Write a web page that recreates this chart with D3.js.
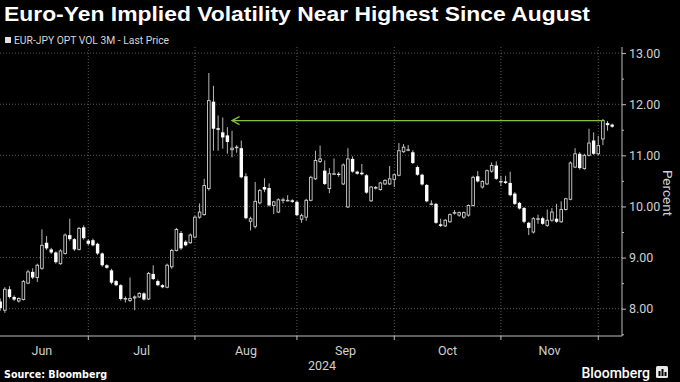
<!DOCTYPE html>
<html><head><meta charset="utf-8">
<script src="https://cdn.jsdelivr.net/npm/d3@7"></script>
<style>html,body{margin:0;padding:0;background:#000;}svg{display:block}</style>
</head><body>
<svg id="chart" width="680" height="382"></svg>
<script>
// ---- data ----
const firstDay = "2024-06-04";
const lastDay = "2024-12-05";
const open = [8.14,7.97,8.38,8.23,8.15,8.18,8.50,8.72,8.61,8.79,
9.29,9.16,9.10,8.88,9.08,9.44,9.36,9.16,9.59,9.33,
9.34,9.27,9.08,8.85,8.75,8.54,8.46,8.19,8.16,8.21,
8.23,8.30,8.19,8.68,8.54,8.46,8.42,8.82,9.14,9.48,
9.31,9.29,9.40,9.79,9.84,10.35,12.05,11.53,11.45,11.39,
11.11,11.16,11.14,10.59,9.71,9.61,10.07,10.38,10.36,10.02,
9.89,10.13,10.12,10.12,10.09,9.75,9.79,10.12,10.54,10.88,
10.70,10.35,10.64,10.64,10.44,9.99,10.93,10.68,10.66,10.61,
10.11,10.37,10.33,10.44,10.44,10.53,10.61,11.07,11.11,11.06,
10.77,10.62,10.42,10.05,10.05,9.65,9.62,9.70,9.88,9.83,
9.79,9.83,10.02,10.59,10.38,10.44,10.69,10.80,10.49,10.49,
10.46,10.25,10.07,9.97,9.68,9.50,9.76,9.77,9.63,9.73,
9.76,9.70,9.94,10.14,10.77,11.03,10.74,11.00,11.29,11.03,
11.32,11.63,11.60];
const high = [8.20,8.42,8.44,8.26,8.22,8.56,8.76,8.79,8.88,9.55,
9.42,9.19,9.12,9.16,9.47,9.76,9.38,9.60,9.63,9.36,
9.37,9.29,9.10,8.87,8.78,8.56,8.48,8.24,8.61,8.26,
8.32,8.32,8.72,8.85,8.57,8.48,8.88,9.17,9.58,9.52,
9.34,9.47,9.82,10.06,10.54,12.61,12.36,11.78,11.74,11.55,
11.48,11.20,11.29,10.65,9.80,10.48,10.34,10.55,10.45,10.11,
10.16,10.17,10.22,10.14,10.11,9.86,10.15,10.60,11.09,11.19,
10.90,10.75,10.94,10.67,10.84,11.14,10.98,10.70,10.83,10.63,
10.40,10.40,10.48,10.53,10.79,10.64,11.24,11.22,11.20,11.10,
10.80,10.64,10.44,10.12,10.07,9.76,9.75,9.86,9.93,9.90,
9.90,10.04,10.60,10.69,10.51,10.72,10.86,10.88,10.60,10.60,
10.68,10.28,10.09,9.99,9.70,9.79,9.84,9.80,9.94,9.97,
10.05,10.10,10.17,10.88,11.14,11.06,11.03,11.52,11.45,11.38,
11.71,11.67,11.62];
const low = [7.96,7.92,8.20,8.15,8.12,8.16,8.48,8.58,8.52,8.76,
9.15,9.07,8.88,8.86,9.06,9.33,9.13,9.14,9.35,9.24,
9.22,9.05,8.82,8.78,8.48,8.44,8.16,8.12,8.13,7.97,
8.21,8.16,8.17,8.56,8.44,8.40,8.40,8.78,9.12,9.15,
9.22,9.27,9.38,9.76,9.82,10.31,11.09,11.09,11.13,11.03,
10.96,11.05,10.55,9.75,9.53,9.57,10.04,10.28,10.00,9.85,
9.87,10.06,10.10,10.07,9.81,9.68,9.72,10.10,10.52,10.85,
10.42,10.26,10.62,10.58,10.42,9.97,10.66,10.62,10.61,10.25,
10.09,10.33,10.31,10.42,10.42,10.38,10.59,11.05,11.08,10.83,
10.60,10.41,10.08,10.02,9.66,9.60,9.60,9.68,9.84,9.80,
9.76,9.80,10.00,10.47,10.35,10.42,10.66,10.52,10.40,10.44,
10.20,10.03,9.94,9.67,9.44,9.47,9.66,9.64,9.60,9.70,
9.68,9.68,9.92,10.12,10.75,10.72,10.72,10.98,11.01,11.00,
11.20,11.48,11.54];
const close = [8.01,8.38,8.23,8.18,8.20,8.53,8.72,8.61,8.85,9.24,
9.18,9.10,8.91,9.13,9.44,9.36,9.16,9.57,9.38,9.27,
9.24,9.08,8.85,8.80,8.51,8.46,8.19,8.20,8.20,8.23,
8.30,8.18,8.69,8.58,8.46,8.42,8.85,9.14,9.55,9.18,
9.24,9.44,9.79,9.89,10.41,12.07,11.52,11.50,11.35,11.26,
11.14,11.16,10.57,9.77,9.76,10.10,10.31,10.33,10.02,10.09,
10.13,10.13,10.12,10.09,9.83,9.82,10.12,10.57,10.90,10.93,
10.44,10.64,10.64,10.63,10.81,10.93,10.68,10.64,10.63,10.27,
10.38,10.37,10.46,10.51,10.54,10.62,11.09,11.16,11.11,10.85,
10.62,10.43,10.10,10.05,9.68,9.62,9.73,9.84,9.88,9.88,
9.88,10.02,10.57,10.49,10.49,10.70,10.80,10.54,10.49,10.46,
10.22,10.05,9.96,9.70,9.58,9.76,9.76,9.66,9.73,9.89,
9.70,9.94,10.15,10.85,11.03,10.75,11.00,11.24,11.03,11.19,
11.68,11.59,11.56];
const yTicks = [8, 9, 10, 11, 12, 13];
const yMinorTicks = [7.5, 8.5, 9.5, 10.5, 11.5, 12.5];
const monthLabels = ["Jun", "Jul", "Aug", "Sep", "Oct", "Nov"];
const yearLabel = "2024";
const arrowLevel = 11.68;
const arrowFrom = "2024-08-13";
const arrowTo = "2024-12-03";
const title = "Euro-Yen Implied Volatility Near Highest Since August";
const legendLabel = "EUR-JPY OPT VOL 3M - Last Price";
const yAxisTitle = "Percent";
const sourceText = "Source: Bloomberg";

// ---- build ----
const parse = d3.timeParse("%Y-%m-%d");
const fmt = d3.timeFormat("%Y-%m-%d");
const days = d3.timeDay.range(parse(firstDay), d3.timeDay.offset(parse(lastDay), 1))
  .filter(d => d.getDay() !== 0 && d.getDay() !== 6).map(fmt);
const data = days.map((d, i) => ({date: d, o: open[i], h: high[i], l: low[i], c: close[i]}));

const svg = d3.select("#chart");
const W = 680, H = 382;
const plot = {left: 0, right: 622, top: 47, bottom: 336};

const x = d3.scaleBand().domain(days).range([-2.1, 614.5]);
const cx = d => x(d) + x.bandwidth() / 2;
const y = d3.scaleLinear().domain([7.466, 13.06]).range([plot.bottom, 50]);

svg.append("rect").attr("width", W).attr("height", H).attr("fill", "#000");

// first trading day of each month (for grid/ticks)
const monthStarts = [];
days.forEach((d, i) => { if (i > 0 && d.slice(5, 7) !== days[i - 1].slice(5, 7)) monthStarts.push(d); });

// gridlines
const grid = svg.append("g");
grid.selectAll("line.h").data(yTicks).join("line")
  .attr("x1", plot.left).attr("x2", plot.right)
  .attr("y1", d => y(d)).attr("y2", d => y(d))
  .attr("stroke", "#5a5a5a").attr("stroke-width", 1).attr("stroke-dasharray", "1,2");
grid.selectAll("line.v").data(monthStarts).join("line")
  .attr("x1", d => cx(d)).attr("x2", d => cx(d))
  .attr("y1", plot.top).attr("y2", plot.bottom)
  .attr("stroke", "#5a5a5a").attr("stroke-width", 1).attr("stroke-dasharray", "1,2");

// candles
const clipId = "clipPlot";
svg.append("clipPath").attr("id", clipId).append("rect")
  .attr("x", 0).attr("y", plot.top).attr("width", plot.right).attr("height", plot.bottom - plot.top);
const cg = svg.append("g").attr("clip-path", `url(#${clipId})`);
const candle = cg.selectAll("g.c").data(data).join("g");
candle.append("line")
  .attr("x1", d => cx(d.date)).attr("x2", d => cx(d.date))
  .attr("y1", d => y(d.h)).attr("y2", d => y(d.l))
  .attr("stroke", "#b8b8b8").attr("stroke-width", 1);
candle.append("rect")
  .attr("x", d => d.c >= d.o ? cx(d.date) - 1.3 : cx(d.date) - 1.7)
  .attr("width", d => d.c >= d.o ? 2.6 : 3.4)
  .attr("y", d => y(Math.max(d.o, d.c)))
  .attr("height", d => Math.max(d.c >= d.o ? 0.6 : 1.2, Math.abs(y(d.o) - y(d.c))))
  .attr("fill", d => d.c >= d.o ? "#000" : "#ffffff")
  .attr("stroke", d => d.c >= d.o ? "#d0d0d0" : "none")
  .attr("stroke-width", 0.9);

// arrow annotation
const green = "#83c13f";
const ax1 = cx(arrowFrom), ax2 = cx(arrowTo), ay = y(arrowLevel);
svg.append("line").attr("x1", ax1).attr("x2", ax2).attr("y1", ay).attr("y2", ay)
  .attr("stroke", green).attr("stroke-width", 1.3);
svg.append("path")
  .attr("d", `M${ax1 + 7.5},${ay - 4} L${ax1},${ay} L${ax1 + 7.5},${ay + 4}`)
  .attr("fill", "none").attr("stroke", green).attr("stroke-width", 1.3);

// y axis
const yAxisG = svg.append("g").attr("transform", `translate(${plot.right},0)`)
  .call(d3.axisRight(y).tickValues(yTicks).tickFormat(d3.format(".2f")).tickSize(4).tickPadding(3));
yAxisG.select(".domain").attr("d", `M0,${plot.top}V${plot.bottom}`);
svg.append("g").attr("transform", `translate(${plot.right},0)`)
  .call(d3.axisRight(y).tickValues(yMinorTicks.filter(v => y(v) < plot.bottom)).tickFormat("").tickSize(2))
  .select(".domain").remove();
svg.selectAll(".tick line, .domain").attr("stroke", "#bdbdbd");
yAxisG.selectAll("text").attr("fill", "#d0d0d0").attr("font-family", "Roboto, 'Liberation Sans', sans-serif")
  .attr("font-size", 12.5);

// x axis
const xAxisG = svg.append("g").attr("transform", `translate(0,${plot.bottom})`)
  .call(d3.axisBottom(x).tickValues(monthStarts).tickFormat("").tickSize(4));
xAxisG.select(".domain").attr("d", `M${plot.left},0H${plot.right}`).attr("stroke", "#bdbdbd");
xAxisG.selectAll(".tick line").attr("stroke", "#bdbdbd");
const bounds = [cx(days[0]) - x.step(), ...monthStarts.map(cx)];
svg.append("g").selectAll("text").data(monthLabels).join("text")
  .attr("x", (d, i) => (bounds[i] + bounds[i + 1]) / 2)
  .attr("y", 352)
  .attr("text-anchor", "middle").attr("dominant-baseline", "middle")
  .attr("fill", "#d0d0d0").attr("font-family", "Roboto, 'Liberation Sans', sans-serif").attr("font-size", 12.5)
  .text(d => d);
svg.append("text").attr("x", 322).attr("y", 367).attr("text-anchor", "middle").attr("dominant-baseline", "middle")
  .attr("fill", "#d0d0d0").attr("font-family", "Roboto, 'Liberation Sans', sans-serif").attr("font-size", 12.5)
  .text(yearLabel);

// y-axis title
svg.append("text").attr("transform", "translate(667,193) rotate(90)")
  .attr("text-anchor", "middle").attr("dominant-baseline", "middle")
  .attr("fill", "#d0d0d0").attr("font-family", "Roboto, 'Liberation Sans', sans-serif").attr("font-size", 13.5)
  .text(yAxisTitle);

// title
svg.append("text").attr("x", 4).attr("y", 21)
  .attr("fill", "#ffffff").attr("font-family", "'Liberation Sans', Arial, sans-serif").attr("font-weight", "bold")
  .attr("font-size", 21).attr("textLength", 586).attr("lengthAdjust", "spacingAndGlyphs")
  .text(title);

// legend
svg.append("rect").attr("x", 5).attr("y", 37).attr("width", 6).attr("height", 6).attr("fill", "#e0e0e0");
svg.append("text").attr("x", 14).attr("y", 44)
  .attr("fill", "#d8d8d8").attr("font-family", "Roboto, 'Liberation Sans', sans-serif").attr("font-size", 11)
  .attr("textLength", 155).attr("lengthAdjust", "spacingAndGlyphs")
  .text(legendLabel);

// footer
svg.append("text").attr("x", 4).attr("y", 378)
  .attr("fill", "#ffffff").attr("font-family", "'DejaVu Sans', sans-serif").attr("font-weight", "bold")
  .attr("font-size", 11).attr("textLength", 103).attr("lengthAdjust", "spacingAndGlyphs")
  .text(sourceText);
svg.append("text").attr("x", 650).attr("y", 378).attr("text-anchor", "end")
  .attr("fill", "#ffffff").attr("font-family", "Roboto, 'Liberation Sans', sans-serif").attr("font-size", 14)
  .attr("font-weight", 500)
  .text("Bloomberg");
const logo = svg.append("g").attr("transform", "translate(656,366)");
logo.append("rect").attr("width", 12).attr("height", 12).attr("rx", 1.5).attr("fill", "#e8e8e8");
[[2.5, 5, 2], [5.5, 3, 2], [8.5, 6, 2]].forEach(([bx, by, bw]) =>
  logo.append("rect").attr("x", bx).attr("y", by).attr("width", bw).attr("height", 10 - by).attr("fill", "#000"));
</script>
</body></html>
